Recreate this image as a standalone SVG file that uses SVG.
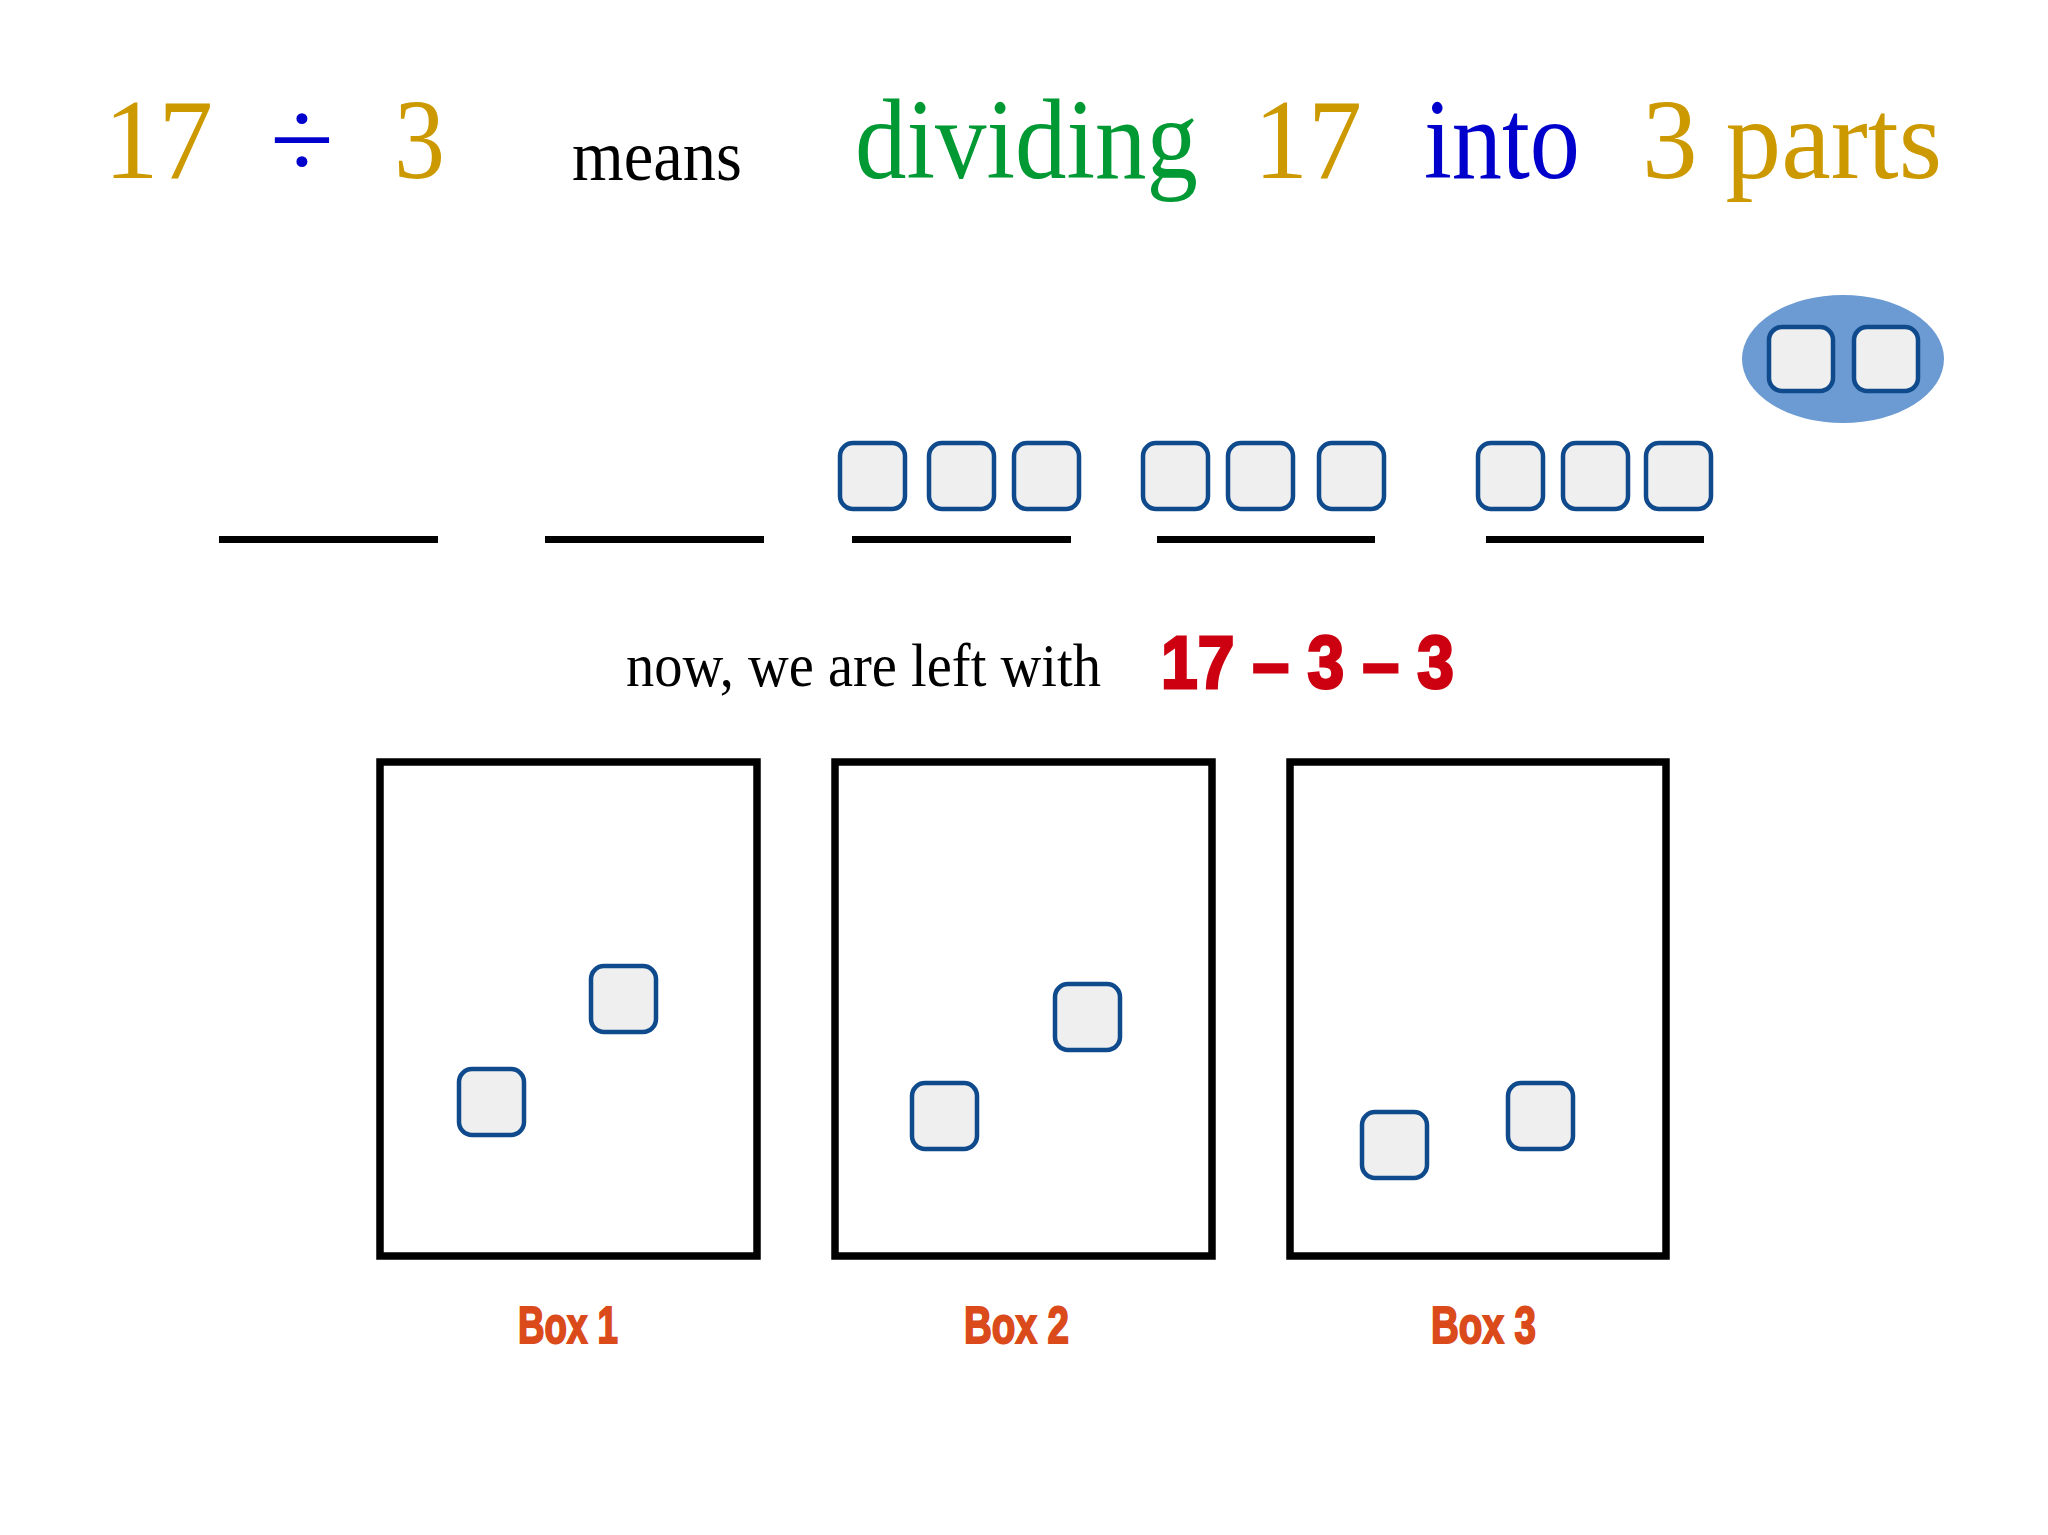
<svg xmlns="http://www.w3.org/2000/svg" width="2048" height="1535" viewBox="0 0 2048 1535">
<style>
.serif{font-family:"Liberation Serif","Times New Roman",serif;}
.gold{fill:#CC9900;}
.blue{fill:#0000CC;}
.green{fill:#009933;}
.tile{fill:#EFEFEF;stroke:#0F4A8C;stroke-width:4.5;}
.line{fill:#000;}
.box{fill:#FFFFFF;stroke:#000;stroke-width:7.5;}
.label{font-family:"Liberation Sans",Arial,sans-serif;font-weight:bold;font-size:52px;fill:#DA4A1A;stroke:#DA4A1A;stroke-width:2;}
.red{font-family:"Liberation Sans",Arial,sans-serif;font-weight:bold;font-size:75px;fill:#CC0010;stroke:#CC0010;stroke-width:3;}
</style>
<rect width="2048" height="1535" fill="#FFFFFF"/>
<g id="title">
<text class="serif gold" x="104" y="178" font-size="114" textLength="109" lengthAdjust="spacingAndGlyphs">17</text>
<text class="serif blue" x="270" y="178" font-size="114" textLength="64" lengthAdjust="spacingAndGlyphs">÷</text>
<text class="serif gold" x="394" y="178" font-size="114" textLength="51" lengthAdjust="spacingAndGlyphs">3</text>
<text class="serif" x="572" y="180" font-size="72" fill="#000" textLength="170" lengthAdjust="spacingAndGlyphs">means</text>
<text class="serif green" x="855" y="178" font-size="114" textLength="343" lengthAdjust="spacingAndGlyphs">dividing</text>
<text class="serif gold" x="1254" y="178" font-size="114" textLength="108" lengthAdjust="spacingAndGlyphs">17</text>
<text class="serif blue" x="1424" y="178" font-size="114" textLength="156" lengthAdjust="spacingAndGlyphs">into</text>
<text class="serif gold" x="1642" y="178" font-size="114" textLength="300" lengthAdjust="spacingAndGlyphs">3 parts</text>
</g>
<g id="remainder-group">
<ellipse cx="1843" cy="359" rx="101" ry="64" fill="#6B9BD2"/>
<rect class="tile" x="1769" y="327" width="64" height="64" rx="13"/>
<rect class="tile" x="1854" y="327" width="64" height="64" rx="13"/>
</g>
<g id="slot-1"><rect class="line" x="219" y="536" width="219" height="7"/></g>
<g id="slot-2"><rect class="line" x="545" y="536" width="219" height="7"/></g>
<g id="slot-3">
<rect class="tile" x="840" y="443" width="65" height="66" rx="13"/>
<rect class="tile" x="929" y="443" width="65" height="66" rx="13"/>
<rect class="tile" x="1014" y="443" width="65" height="66" rx="13"/>
<rect class="line" x="852" y="536" width="219" height="7"/>
</g>
<g id="slot-4">
<rect class="tile" x="1143" y="443" width="65" height="66" rx="13"/>
<rect class="tile" x="1228" y="443" width="65" height="66" rx="13"/>
<rect class="tile" x="1319" y="443" width="65" height="66" rx="13"/>
<rect class="line" x="1157" y="536" width="218" height="7"/>
</g>
<g id="slot-5">
<rect class="tile" x="1478" y="443" width="65" height="66" rx="13"/>
<rect class="tile" x="1563" y="443" width="65" height="66" rx="13"/>
<rect class="tile" x="1646" y="443" width="65" height="66" rx="13"/>
<rect class="line" x="1486" y="536" width="218" height="7"/>
</g>
<g id="left-text">
<text class="serif" x="626" y="686" font-size="62" fill="#000" textLength="475" lengthAdjust="spacingAndGlyphs">now, we are left with</text>
<text class="red" x="1161" y="688" textLength="293" lengthAdjust="spacingAndGlyphs">17 – 3 – 3</text>
</g>
<g id="box-1">
<rect class="box" x="380" y="762" width="377" height="494"/>
<rect class="tile" x="591" y="966" width="65" height="66" rx="13"/>
<rect class="tile" x="459" y="1069" width="65" height="66" rx="13"/>
<text class="label" x="518" y="1343" textLength="100" lengthAdjust="spacingAndGlyphs">Box 1</text>
</g>
<g id="box-2">
<rect class="box" x="835" y="762" width="377" height="494"/>
<rect class="tile" x="1055" y="984" width="65" height="66" rx="13"/>
<rect class="tile" x="912" y="1083" width="65" height="66" rx="13"/>
<text class="label" x="964" y="1343" textLength="105" lengthAdjust="spacingAndGlyphs">Box 2</text>
</g>
<g id="box-3">
<rect class="box" x="1290" y="762" width="376" height="494"/>
<rect class="tile" x="1362" y="1112" width="65" height="66" rx="13"/>
<rect class="tile" x="1508" y="1083" width="65" height="66" rx="13"/>
<text class="label" x="1431" y="1343" textLength="105" lengthAdjust="spacingAndGlyphs">Box 3</text>
</g>
</svg>
